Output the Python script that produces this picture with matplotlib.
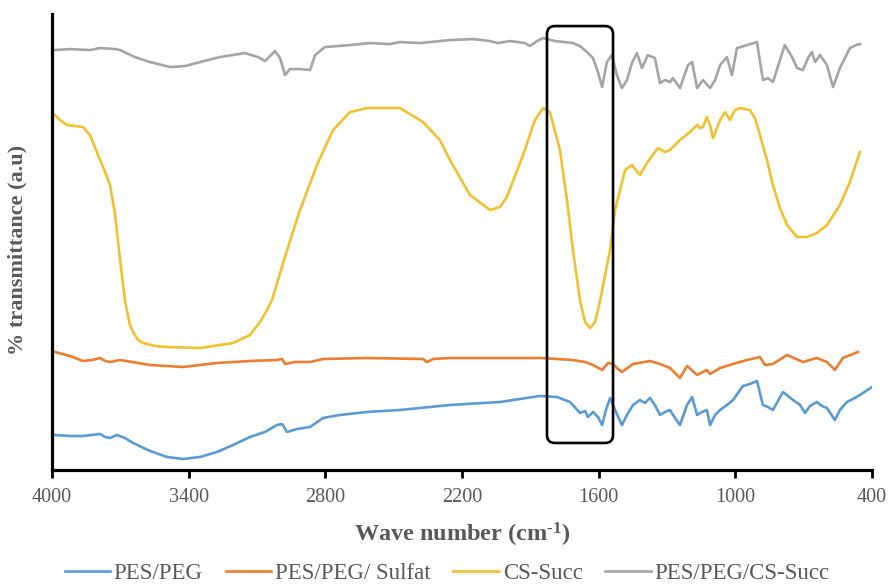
import matplotlib
matplotlib.use('Agg')
import matplotlib.pyplot as plt
from matplotlib.patches import FancyBboxPatch

plt.rcParams['font.family'] = ['Liberation Serif', 'DejaVu Serif']
plt.rcParams['mathtext.fontset'] = 'custom'
plt.rcParams['mathtext.rm'] = 'Liberation Serif:bold'
plt.rcParams['mathtext.default'] = 'rm'

# FTIR spectra, wavenumber (cm-1) vs transmittance (a.u., offset)
pes_peg_wn = [3987, 3921, 3864, 3789, 3767, 3745, 3715, 3680, 3644, 3570, 3495, 3425, 3350,
              3276, 3205, 3131, 3065, 3012, 2990, 2968, 2924, 2867, 2810, 2736, 2617, 2472,
              2253, 2033, 1858, 1783, 1726, 1682, 1660, 1647, 1625, 1603, 1585, 1568, 1550,
              1528, 1498, 1476, 1449, 1419, 1397, 1375, 1353, 1331, 1309, 1287, 1265, 1243,
              1212, 1190, 1168, 1146, 1125, 1111, 1089, 1067, 1037, 1010, 967, 936, 905, 879,
              857, 835, 791, 747, 716, 694, 672, 642, 620, 598, 563, 541, 510, 475, 440, 400]
pes_peg_t = [35, 34, 34, 36, 33, 32, 35, 32, 27, 19, 13, 11, 13,
             18, 25, 33, 38, 45, 46, 38, 41, 43, 52, 55, 58, 60,
             65, 68, 74, 73, 68, 57, 59, 53, 58, 53, 45, 60, 72,
             60, 45, 55, 65, 70, 67, 72, 65, 55, 58, 60, 52, 45,
             65, 73, 55, 58, 60, 45, 55, 60, 65, 70, 84, 86, 89, 65,
             63, 60, 78, 70, 65, 57, 64, 68, 64, 62, 50, 60, 68, 72, 77, 83]

sulfat_wn = [3987, 3921, 3864, 3824, 3789, 3767, 3745, 3701, 3570, 3425, 3276, 3131, 3012,
             2990, 2977, 2933, 2867, 2810, 2617, 2371, 2354, 2327, 2253, 1858, 1713, 1660,
             1625, 1585, 1559, 1537, 1520, 1498, 1449, 1375, 1331, 1287, 1243, 1212, 1168,
             1125, 1111, 1067, 1010, 949, 892, 870, 835, 773, 703, 642, 598, 563, 528, 462]
sulfat_t = [118, 114, 109, 110, 112, 109, 108, 110, 105, 103, 107, 109, 110,
            111, 106, 108, 108, 111, 112, 111, 108, 111, 112, 112, 110, 108,
            105, 100, 107, 106, 102, 98, 106, 109, 106, 102, 92, 104, 95,
            100, 96, 102, 106, 110, 113, 105, 106, 115, 108, 112, 108, 100, 112, 118]

cs_succ_wn = [3987, 3965, 3934, 3899, 3864, 3833, 3789, 3767, 3745, 3723, 3701, 3680, 3658,
              3644, 3622, 3600, 3548, 3495, 3350, 3205, 3131, 3087, 3056, 3034, 2968, 2911,
              2837, 2766, 2692, 2617, 2472, 2371, 2297, 2253, 2165, 2077, 2033, 2003, 1932,
              1880, 1844, 1814, 1770, 1739, 1713, 1682, 1660, 1638, 1616, 1593, 1572, 1550,
              1528, 1506, 1484, 1454, 1419, 1388, 1340, 1309, 1287, 1243, 1199, 1168, 1155,
              1142, 1125, 1111, 1098, 1081, 1067, 1045, 1024, 1002, 980, 936, 914, 892, 861,
              835, 804, 773, 729, 686, 642, 598, 541, 497, 453]
cs_succ_t = [355, 350, 345, 344, 343, 335, 310, 298, 285, 255, 210, 170, 145,
             138, 130, 127, 124, 123, 122, 127, 135, 148, 160, 170, 220, 260,
             305, 340, 358, 362, 362, 348, 330, 310, 275, 260, 263, 273, 315,
             350, 362, 358, 320, 270, 220, 170, 148, 142, 148, 170, 195, 220,
             260, 280, 300, 305, 295, 307, 322, 318, 320, 330, 338, 345, 342,
             343, 353, 345, 332, 342, 350, 358, 350, 360, 362, 360, 352, 335, 310,
             285, 262, 245, 233, 233, 237, 245, 265, 288, 318]

cs_blend_wn = [3987, 3921, 3833, 3789, 3723, 3701, 3636, 3570, 3482, 3416, 3350, 3262, 3153,
               3096, 3065, 3043, 3021, 2999, 2977, 2955, 2911, 2867, 2845, 2802, 2692, 2604,
               2516, 2472, 2385, 2253, 2152, 2077, 2042, 1989, 1924, 1902, 1871, 1844, 1792,
               1713, 1682, 1651, 1625, 1603, 1585, 1564, 1542, 1520, 1498, 1476, 1454, 1432,
               1410, 1384, 1353, 1331, 1309, 1287, 1274, 1243, 1208, 1190, 1168, 1142, 1111,
               1089, 1067, 1037, 1015, 993, 949, 905, 879, 857, 835, 783, 751, 729, 703, 681,
               664, 650, 628, 598, 571, 541, 497, 470, 453]
cs_blend_t = [420, 421, 420, 422, 421, 420, 413, 408, 403, 404, 408, 413, 417,
              413, 409, 414, 419, 412, 395, 401, 401, 400, 415, 423, 425, 427,
              426, 428, 427, 430, 431, 429, 427, 429, 427, 424, 429, 432, 429,
              427, 424, 418, 412, 398, 383, 408, 415, 395, 382, 390, 407, 417,
              402, 415, 412, 387, 390, 388, 392, 382, 405, 408, 382, 390, 382,
              390, 405, 413, 395, 422, 425, 428, 390, 392, 388, 425, 413, 402, 400, 412,
              418, 408, 415, 405, 383, 402, 422, 425, 426]

series_names = ['PES/PEG', 'PES/PEG/ Sulfat', 'CS-Succ', 'PES/PEG/CS-Succ']
series_colors = ['#5B9BD5', '#ED7D31', '#F2C12E', '#A5A5A5']

# highlighted band (cm-1) and its vertical extent
box_wn = [1827, 1537]
box_t = [27, 444]

text_color = '#595959'

fig = plt.figure(figsize=(8.89, 5.86), dpi=100)
ax = fig.add_axes([0.0585, 0.198, 0.9224, 0.778])

data = [(pes_peg_wn, pes_peg_t), (sulfat_wn, sulfat_t),
        (cs_succ_wn, cs_succ_t), (cs_blend_wn, cs_blend_t)]
for (wn, t), name, col in zip(data, series_names, series_colors):
    ax.plot(wn, t, color=col, lw=1.9, label=name, solid_joinstyle='round')

ax.set_xlim(4000, 400)
ax.set_ylim(0, 456)
ax.set_xticks([4000, 3400, 2800, 2200, 1600, 1000, 400])
ax.set_yticks([])

for s in ['top', 'right']:
    ax.spines[s].set_visible(False)
for s in ['left', 'bottom']:
    ax.spines[s].set_linewidth(2.3)
    ax.spines[s].set_color('black')
ax.tick_params(axis='x', direction='out', length=6, width=2, color='black',
               labelsize=14.5, labelcolor=text_color, pad=7)

# rounded box around the 1700-1550 region
w = box_wn[0] - box_wn[1]
rect = FancyBboxPatch((box_wn[1], box_t[0]), w, box_t[1] - box_t[0],
                      boxstyle='round,pad=0,rounding_size=35', mutation_aspect=1 / 4.39,
                      fill=False, edgecolor='black', lw=1.9, zorder=5)
ax.add_patch(rect)

ax.set_xlabel('Wave number (cm$^{\u2010 1}$)', fontsize=17.5, fontweight='bold', color=text_color)
ax.xaxis.set_label_coords(0.5, -0.112)
ax.set_ylabel('% transmittance (a.u)', fontsize=16, fontweight='bold', color=text_color)
ax.yaxis.set_label_coords(-0.03, 0.482)

fig.legend(loc='center', bbox_to_anchor=(0.503, 1 - 573 / 586), ncol=4, frameon=False,
           fontsize=16.5, handlelength=2.0, handletextpad=0.15, columnspacing=1.0,
           labelcolor=text_color, borderpad=0.1)

plt.savefig('out.png', dpi=100)
